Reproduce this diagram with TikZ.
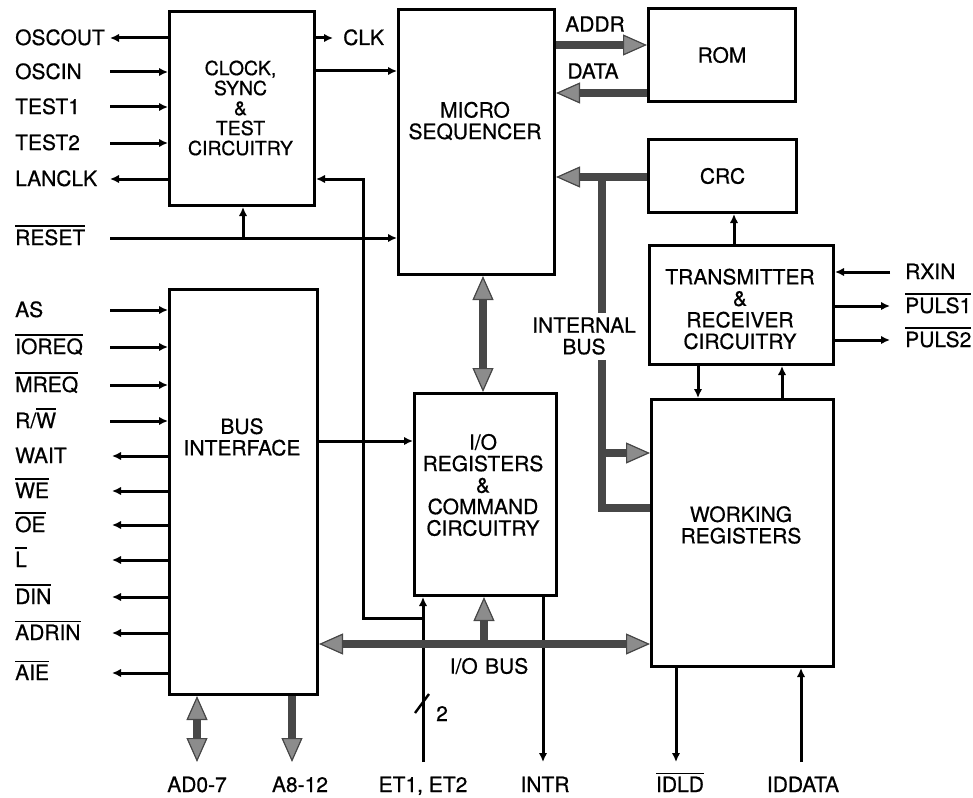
\documentclass[tikz,border=0pt]{standalone}
\usepackage{fontspec}
\setmainfont[FakeBold=0.6]{TeX Gyre Heros}
\usetikzlibrary{arrows.meta}
\newcommand\ovl[1]{\vbox{\hrule height 1.8pt\kern 2.4pt\hbox{#1}}}
\newcommand\rwlab{R/\ovl{W}}
\begin{document}
\begin{tikzpicture}[x=1pt,y=-1pt,
  font=\fontsize{21}{21.5}\selectfont,
  box/.style={draw,line width=3pt,anchor=north west,inner sep=0pt},
  txt/.style={align=center,inner sep=0pt},
  lab/.style={anchor=base west,inner sep=0pt},
  sig/.style={line width=3pt,>={Latex[length=9pt,width=8.5pt]}},
  bus/.style={line width=7.5pt,draw=black!72,line join=miter,
     >={Triangle[length=24pt,width=21pt,fill=black!45,line width=1.2pt]}}]
\useasboundingbox (0,0) rectangle (973,797);

% boxes
\node[box,minimum width=145pt,minimum height=194pt] (clk) at (168,10) {};
\node[box,minimum width=156pt,minimum height=265pt] (seq) at (397,8) {};
\node[box,minimum width=147pt,minimum height=93pt] (rom) at (647,7) {};
\node[box,minimum width=148pt,minimum height=73pt] (crc) at (647,138) {};
\node[box,minimum width=184pt,minimum height=119pt] (trx) at (648,244) {};
\node[box,minimum width=182pt,minimum height=267pt] (wr) at (650,398) {};
\node[box,minimum width=148pt,minimum height=405pt] (bif) at (168,288) {};
\node[box,minimum width=142pt,minimum height=202pt] (io) at (413,392) {};

% box texts
\node[txt,font=\fontsize{19.5}{20}\selectfont] (clkT) at (240.5,108) {CLOCK,\\SYNC\\\&\\TEST\\CIRCUITRY};
\node[txt] (seqT) at (475,121) {MICRO\\SEQUENCER};
\node[txt] (romT) at (rom.center) {ROM};
\node[txt] (crcT) at (crc.center) {CRC};
\node[txt] (trxT) at (740,309) {TRANSMITTER\\\&\\RECEIVER\\CIRCUITRY};
\node[txt] (wrT) at (741,525) {WORKING\\REGISTERS};
\node[txt] (bifT) at (242,437) {BUS\\INTERFACE};
\node[txt] (ioT) at (483,485) {I/O\\REGISTERS\\\&\\COMMAND\\CIRCUITRY};

% clock signals
\foreach \nm/\yy/\lbl in {oscin/72/OSCIN,testa/107/TEST1,testb/143/TEST2}{
  \node[lab] (l\nm) at (15,\yy+7) {\lbl};
  \coordinate (p\nm) at (110,\yy);
  \draw[sig,->] (p\nm) -- (clk.west |- p\nm);
}
\foreach \nm/\yy/\lbl in {oscout/38/OSCOUT,lanclk/179/LANCLK}{
  \node[lab] (l\nm) at (15,\yy+7) {\lbl};
  \coordinate (p\nm) at (110,\yy);
  \draw[sig,->] (clk.west |- p\nm) -- (p\nm);
}
\node[lab] (lreset) at (15,245) {\ovl{RESET}};
\coordinate (preset) at (110,238);
\coordinate (rj) at (243,238);
\draw[sig,->] (preset) -- (seq.west |- preset);
\draw[sig,->] (rj) -- (clk.south -| rj);

\coordinate (pclk) at (333,38);
\draw[sig,->] (clk.east |- pclk) -- (pclk);
\node[lab] (lclk) at (343,45) {CLK};
\coordinate (c71) at (0,71);
\draw[sig,->] (clk.east |- c71) -- (seq.west |- c71);

% bus interface signals
\foreach \nm/\yy/\lbl in {as/310/AS,ioreq/347/\ovl{IOREQ},mreq/385/\ovl{MREQ},rw/421/\rwlab}{
  \node[lab] (l\nm) at (15,\yy+7) {\lbl};
  \coordinate (p\nm) at (110,\yy);
  \draw[sig,->] (p\nm) -- (bif.west |- p\nm);
}
\foreach \nm/\yy/\lbl in {wait/456/WAIT,we/491/\ovl{WE},oe/525/\ovl{OE},el/560/\ovl{L},din/597/\ovl{DIN},adrin/633/\ovl{ADRIN},aie/673/\ovl{AIE}}{
  \node[lab] (l\nm) at (15,\yy+7) {\lbl};
  \coordinate (p\nm) at (112,\yy);
  \draw[sig,->] (bif.west |- p\nm) -- (p\nm);
}

% bus interface -> IO
\coordinate (c441) at (0,441);
\draw[sig,->] (bif.east |- c441) -- (io.west |- c441);

% ET lines and loop to clock
\coordinate (pet) at (423,762);
\coordinate (etj) at (423,618);
\coordinate (lc1) at (363,618);
\coordinate (lc2) at (363,179);
\draw[sig,->] (pet) -- (pet |- io.south);
\draw[sig,->,line join=miter] (etj) -- (lc1) -- (lc2) -- (clk.east |- lc2);
\draw[line width=2.4pt] (415,713) -- (429,694);
\node[lab] (ltwo) at (436,721) {2};

% INTR
\coordinate (pintr) at (543,762);
\draw[sig,->] (io.south -| pintr) -- (pintr);

% transmitter
\coordinate (x734) at (734,0);
\coordinate (x698) at (698,0);
\coordinate (x782) at (782,0);
\draw[sig,->] (trx.north -| x734) -- (crc.south -| x734);
\draw[sig,->] (trx.south -| x698) -- (wr.north -| x698);
\draw[sig,->] (wr.north -| x782) -- (trx.south -| x782);
\coordinate (prx) at (890,272);
\coordinate (pp1) at (890,306);
\coordinate (pp2) at (890,340);
\draw[sig,->] (prx) -- (trx.east |- prx);
\draw[sig,->] (trx.east |- pp1) -- (pp1);
\draw[sig,->] (trx.east |- pp2) -- (pp2);
\node[lab] (lrx) at (905,279) {RXIN};
\node[lab] (lp1) at (905,313) {\ovl{PULS1}};
\node[lab] (lp2) at (905,347) {\ovl{PULS2}};

% working registers I/O
\coordinate (pidld) at (676,762);
\coordinate (piddata) at (801,762);
\draw[sig,->] (wr.south -| pidld) -- (pidld);
\draw[sig,->] (piddata) -- (wr.south -| piddata);

% buses
\coordinate (c45) at (0,45);
\coordinate (c93) at (0,93);
\coordinate (c177) at (0,177);
\draw[bus,->] (seq.east |- c45) -- (rom.west |- c45);
\draw[bus,->] (rom.west |- c93) -- (seq.east |- c93);
\draw[bus,->] (crc.west |- c177) -- (seq.east |- c177);
\coordinate (ib0) at (602,177);
\coordinate (ib1) at (602,313);
\coordinate (ib2) at (602,360);
\coordinate (ib3) at (602,508);
\coordinate (ibj) at (602,453);
\draw[bus] (ib0) -- (ib1);
\draw[bus] (ib2) -- (ib3) -- (wr.west |- ib3);
\draw[bus,->] (ibj) -- (wr.west |- ibj);
\coordinate (x483) at (483,0);
\draw[bus,<->] (seq.south -| x483) -- (io.north -| x483);
\coordinate (c644) at (0,644);
\coordinate (iobj) at (484,644);
\draw[bus,<->] (bif.east |- c644) -- (wr.west |- c644);
\draw[bus,->] (iobj) -- (io.south -| iobj);
\coordinate (pad) at (197,762);
\coordinate (pa8) at (292,762);
\draw[bus,<->] (bif.south -| pad) -- (pad);
\draw[bus,->] (bif.south -| pa8) -- (pa8);

% bus labels
\node[txt] (laddr) at (595,24) {ADDR};
\node[txt] (ldata) at (593,71) {DATA};
\node[txt] (libus) at (584,336) {INTERNAL\\BUS};
\node[txt] (liobus) at (489,666) {I/O\hspace{0.35em}BUS};

% bottom labels
\node[anchor=base,inner sep=0pt] (lad) at (197,792) {AD0-7};
\node[anchor=base,inner sep=0pt] (la8) at (300,792) {A8-12};
\node[anchor=base,inner sep=0pt] (let) at (423,792) {ET1, ET2};
\node[anchor=base,inner sep=0pt] (lintr) at (545,792) {INTR};
\node[anchor=base,inner sep=0pt] (lidld) at (680,792) {\ovl{IDLD}};
\node[anchor=base,inner sep=0pt] (liddata) at (803,792) {IDDATA};
\end{tikzpicture}
\end{document}
